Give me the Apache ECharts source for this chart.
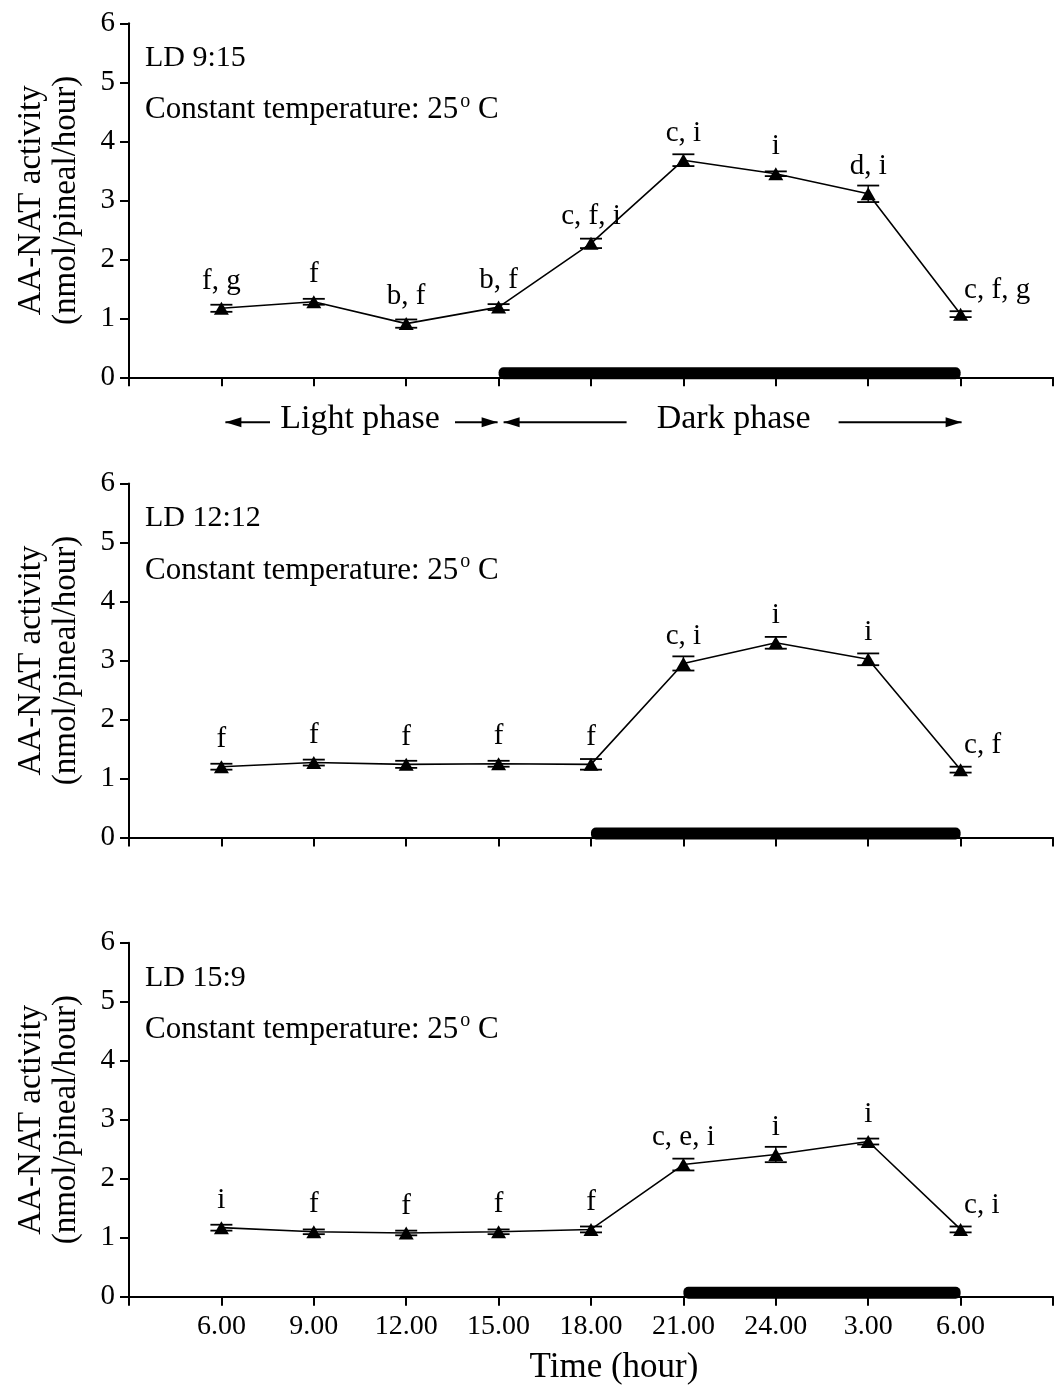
<!DOCTYPE html>
<html>
<head>
<meta charset="utf-8">
<title>AA-NAT activity under three photoperiods</title>
<script src="https://cdn.jsdelivr.net/npm/echarts@6/dist/echarts.min.js"></script>
<style>
  html, body { margin: 0; padding: 0; background: #fff; }
  #chart { width: 1059px; height: 1387px; }
</style>
</head>
<body>
<div id="chart"></div>
<script>
// Sampling times (clock hour) shared by all three photoperiods
const timeLabels = ['6.00', '9.00', '12.00', '15.00', '18.00', '21.00', '24.00', '3.00', '6.00'];
const photoperiods = ['LD 9:15', 'LD 12:12', 'LD 15:9'];
const temperatureNote = 'Constant temperature: 25';

// AA-NAT activity (nmol/pineal/hour), mean and SEM
const aanatLD915 = [1.17, 1.28, 0.91, 1.19, 2.27, 3.68, 3.45, 3.11, 1.07];
const semLD915   = [0.06, 0.05, 0.07, 0.05, 0.08, 0.10, 0.04, 0.14, 0.05];
const lettersLD915 = ['f, g', 'f', 'b, f', 'b, f', 'c, f, i', 'c, i', 'i', 'd, i', 'c, f, g'];

const aanatLD1212 = [1.20, 1.27, 1.24, 1.25, 1.24, 2.95, 3.30, 3.02, 1.15];
const semLD1212   = [0.05, 0.05, 0.06, 0.05, 0.09, 0.12, 0.10, 0.10, 0.05];
const lettersLD1212 = ['f', 'f', 'f', 'f', 'f', 'c, i', 'i', 'i', 'c, f'];

const aanatLD159 = [1.17, 1.10, 1.08, 1.10, 1.14, 2.24, 2.41, 2.63, 1.14];
const semLD159   = [0.05, 0.04, 0.04, 0.04, 0.05, 0.10, 0.13, 0.05, 0.05];
const lettersLD159 = ['i', 'f', 'f', 'f', 'f', 'c, e, i', 'i', 'i', 'c, i'];

// Dark phase: from the lights-off sample index to the final 6.00 sample
const darkOnset = [3, 4, 5];
const darkEnd = 8;

const panels = [
  { title: photoperiods[0], values: aanatLD915,  sem: semLD915,  letters: lettersLD915,  darkFrom: darkOnset[0] },
  { title: photoperiods[1], values: aanatLD1212, sem: semLD1212, letters: lettersLD1212, darkFrom: darkOnset[1] },
  { title: photoperiods[2], values: aanatLD159,  sem: semLD159,  letters: lettersLD159,  darkFrom: darkOnset[2] }
];

const FONT = "'Liberation Serif', 'Times New Roman', Times, serif";
const gridTops = [23.3, 483.5, 942.7];
const GRID_H = 354;

const chart = echarts.init(document.getElementById('chart'), null, { renderer: 'canvas' });

const grids = [], xAxes = [], yAxes = [], series = [];

panels.forEach((p, k) => {
  grids.push({ left: 129, width: 924, top: gridTops[k], height: GRID_H });

  xAxes.push({
    gridIndex: k, type: 'value', min: -1, max: 9, interval: 1,
    axisLine: { show: true, onZero: false, lineStyle: { color: '#000', width: 2 } },
    axisTick: { show: true, length: 9, lineStyle: { color: '#000', width: 2 } },
    axisLabel: {
      show: k === 2, margin: 16, fontFamily: FONT, fontSize: 28, color: '#000',
      formatter: v => (timeLabels[v] !== undefined ? timeLabels[v] : '')
    },
    splitLine: { show: false }
  });

  yAxes.push({
    gridIndex: k, type: 'value', min: 0, max: 6, interval: 1,
    axisLine: { show: true, onZero: false, lineStyle: { color: '#000', width: 2 } },
    axisTick: { show: true, length: 9, lineStyle: { color: '#000', width: 2 } },
    axisLabel: { margin: 14, fontFamily: FONT, fontSize: 29, color: '#000' },
    splitLine: { show: false },
    name: 'AA-NAT activity\n(nmol/pineal/hour)',
    nameLocation: 'middle', nameRotate: 90, nameGap: 45,
    nameTextStyle: { fontFamily: FONT, fontSize: 33, lineHeight: 35, color: '#000' }
  });

  // thick bar marking the dark phase on the time axis
  series.push({
    type: 'custom', xAxisIndex: k, yAxisIndex: k, silent: true, clip: false, z: 5,
    data: [[p.darkFrom, darkEnd]],
    renderItem: (params, api) => {
      const a = api.coord([api.value(0), 0]);
      const b = api.coord([api.value(1), 0]);
      return {
        type: 'rect',
        shape: { x: a[0], y: a[1] - 10, width: b[0] - a[0], height: 12, r: 5 },
        style: { fill: '#000' }
      };
    }
  });

  // SEM error bars
  series.push({
    type: 'custom', xAxisIndex: k, yAxisIndex: k, silent: true, clip: false, z: 3,
    data: p.values.map((v, i) => [i, v, p.sem[i]]),
    renderItem: (params, api) => {
      const x = api.value(0), v = api.value(1), e = api.value(2);
      const t = api.coord([x, v + e]);
      const b = api.coord([x, v - e]);
      const hw = 11;
      const st = { stroke: '#000', lineWidth: 1.8 };
      return {
        type: 'group',
        children: [
          { type: 'line', shape: { x1: t[0], y1: t[1], x2: b[0], y2: b[1] }, style: { stroke: '#000', lineWidth: 1.4 } },
          { type: 'line', shape: { x1: t[0] - hw, y1: t[1], x2: t[0] + hw, y2: t[1] }, style: st },
          { type: 'line', shape: { x1: b[0] - hw, y1: b[1], x2: b[0] + hw, y2: b[1] }, style: st }
        ]
      };
    }
  });

  // mean activity with significance letters
  const last = p.values.length - 1;
  series.push({
    type: 'line', xAxisIndex: k, yAxisIndex: k, z: 4,
    symbol: 'triangle', symbolSize: [15, 13],
    itemStyle: { color: '#000' },
    lineStyle: { color: '#000', width: 1.6 },
    label: {
      show: true, position: 'top', distance: 6,
      fontFamily: FONT, fontSize: 29, color: '#000',
      formatter: prm => p.letters[prm.dataIndex]
    },
    data: p.values.map((v, i) => i === last
      ? { value: [i, v], label: { position: 'right', distance: -4, offset: [0, -24] } }
      : { value: [i, v] })
  });
});

chart.setOption({
  animation: false,
  grid: grids,
  xAxis: xAxes,
  yAxis: yAxes,
  series: series
});

// Text annotations anchored to the axes
const px = (k, x, y) => chart.convertToPixel({ gridIndex: k }, [x, y]);
const graphics = [];

panels.forEach((p, k) => {
  const topY = px(k, -1, 6)[1];
  graphics.push({
    type: 'text', x: 145, y: topY + 35, silent: true,
    style: { text: p.title, font: `30px ${FONT}`, fill: '#000', textVerticalAlign: 'middle' }
  });
  graphics.push({
    type: 'text', x: 145, y: topY + 87, silent: true,
    style: {
      text: `{m|${temperatureNote}}{s|o}{m| C}`,
      textVerticalAlign: 'middle',
      rich: {
        m: { fontFamily: FONT, fontSize: 31, fill: '#000', lineHeight: 36 },
        s: { fontFamily: FONT, fontSize: 20, fill: '#000', lineHeight: 36, padding: [0, 0, 17, 2] }
      }
    }
  });
});

// Light / dark phase arrows under the first panel
const arrowY = px(0, 0, 0)[1] + 45;
const x0 = px(0, 0, 0)[0], x3 = px(0, 3, 0)[0], x8 = px(0, 8, 0)[0];
function arrowHead(tip, dir) {
  return {
    type: 'polygon', silent: true,
    shape: { points: [[tip, arrowY], [tip - dir * 16, arrowY - 5], [tip - dir * 16, arrowY + 5]] },
    style: { fill: '#000' }
  };
}
function shaft(a, b) {
  return { type: 'line', silent: true, shape: { x1: a, y1: arrowY, x2: b, y2: arrowY }, style: { stroke: '#000', lineWidth: 2 } };
}
const cL = (x0 + x3) / 2;
const cD = (x3 + x8) / 2 + 4;
graphics.push(
  shaft(x0 + 4, cL - 90), arrowHead(x0 + 4, -1),
  shaft(cL + 95, x3 - 1), arrowHead(x3 - 1, 1),
  shaft(x3 + 5, cD - 107), arrowHead(x3 + 5, -1),
  shaft(cD + 105, x8 + 1), arrowHead(x8 + 1, 1),
  { type: 'text', x: cL, y: arrowY - 3, silent: true,
    style: { text: 'Light phase', font: `34px ${FONT}`, fill: '#000', textAlign: 'center', textVerticalAlign: 'middle' } },
  { type: 'text', x: cD, y: arrowY - 3, silent: true,
    style: { text: 'Dark phase', font: `34px ${FONT}`, fill: '#000', textAlign: 'center', textVerticalAlign: 'middle' } }
);

// x-axis title under the last panel
graphics.push({
  type: 'text', x: 614, y: px(2, 0, 0)[1] + 71, silent: true,
  style: { text: 'Time (hour)', font: `35px ${FONT}`, fill: '#000', textAlign: 'center', textVerticalAlign: 'middle' }
});

chart.setOption({ graphic: graphics });
</script>
</body>
</html>
